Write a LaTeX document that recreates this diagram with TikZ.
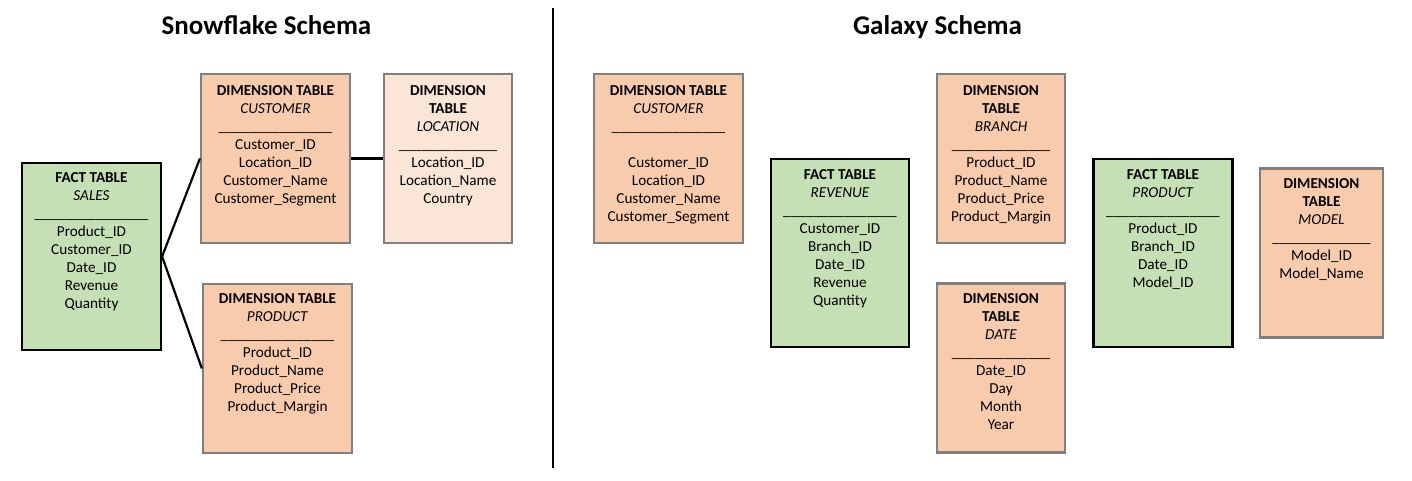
\documentclass[tikz,border=0pt]{standalone}
\usepackage{fontspec}
\setmainfont{Carlito}
\definecolor{factgreen}{HTML}{C5E0B4}
\definecolor{dimorange}{HTML}{F8CBAD}
\definecolor{dimlight}{HTML}{FBE5D6}
\definecolor{dimgray}{HTML}{7F7F7F}
\newcommand\barlong{\_\_\_\_\_\_\_\_\_\_\_\_\_\_\_}
\newcommand\barshort{\_\_\_\_\_\_\_\_\_\_\_\_\_}
\begin{document}
\begin{tikzpicture}[x=1pt,y=1pt,
  fact/.style={draw=black, line width=2.2pt, fill=factgreen, inner sep=0pt},
  dim/.style={draw=dimgray, line width=2.2pt, fill=dimorange, inner sep=0pt},
  dimpale/.style={dim, fill=dimlight},
  tx/.style={font=\fontsize{15.2}{18}\selectfont, align=center, inner sep=0pt, anchor=north},
  title/.style={font=\fontsize{27}{30}\selectfont\bfseries, inner sep=0pt, anchor=base},
  link/.style={draw=black, line width=2.2pt}]
\useasboundingbox (0,0) rectangle (1412,-480);

% titles and divider
\node[title] (snow) at (266.5,-34) {Snowflake Schema};
\node[title] (galaxy) at (937.5,-34) {Galaxy Schema};
\coordinate (dtop) at (553,-8);
\coordinate (dbot) at (553,-468);
\draw[black, line width=1.8pt] (dtop) -- (dbot);

% ---------- Snowflake ----------
\node[fact, minimum width=139pt, minimum height=187pt] (sales) at (91.5,-256.5) {};
\node[tx] (salest) at (91.5,-172.5) {\textbf{FACT TABLE}\\\textit{SALES}\\\barlong\\Product\_ID\\Customer\_ID\\Date\_ID\\Revenue\\Quantity};

\node[dim, minimum width=149pt, minimum height=169pt] (cust) at (275.5,-158.5) {};
\node[tx] (custt) at (275.5,-85.5) {\textbf{DIMENSION TABLE}\\\textit{CUSTOMER}\\\barlong\\Customer\_ID\\Location\_ID\\Customer\_Name\\Customer\_Segment};

\node[dimpale, minimum width=128pt, minimum height=169pt] (loc) at (448,-158.5) {};
\node[tx] (loct) at (448,-85.5) {\textbf{DIMENSION}\\\textbf{TABLE}\\\textit{LOCATION}\\\barshort\\Location\_ID\\Location\_Name\\Country};

\node[dim, minimum width=149pt, minimum height=169pt] (prod) at (277.5,-368.5) {};
\node[tx] (prodt) at (277.5,-293.5) {\textbf{DIMENSION TABLE}\\\textit{PRODUCT}\\\barlong\\Product\_ID\\Product\_Name\\Product\_Price\\Product\_Margin};

\draw[link] (sales.east) -- (cust.west);
\draw[link] (sales.east) -- (prod.west);
\draw[link] (cust.east) -- (loc.west);

% ---------- Galaxy ----------
\node[dim, minimum width=149pt, minimum height=169pt] (gcust) at (668.5,-158.5) {};
\node[tx] (gcustt) at (668.5,-85.5) {\textbf{DIMENSION TABLE}\\\textit{CUSTOMER}\\\barlong\\~\\Customer\_ID\\Location\_ID\\Customer\_Name\\Customer\_Segment};

\node[fact, minimum width=138pt, minimum height=188pt] (rev) at (840,-253) {};
\node[tx] (revt) at (840,-169.5) {\textbf{FACT TABLE}\\\textit{REVENUE}\\\barlong\\Customer\_ID\\Branch\_ID\\Date\_ID\\Revenue\\Quantity};

\node[dim, minimum width=128pt, minimum height=169pt] (branch) at (1001,-158.5) {};
\node[tx] (brancht) at (1001,-85.5) {\textbf{DIMENSION}\\\textbf{TABLE}\\\textit{BRANCH}\\\barshort\\Product\_ID\\Product\_Name\\Product\_Price\\Product\_Margin};

\node[dim, minimum width=128pt, minimum height=169pt] (date) at (1001,-368) {};
\node[tx] (datet) at (1001,-293.5) {\textbf{DIMENSION}\\\textbf{TABLE}\\\textit{DATE}\\\barshort\\Date\_ID\\Day\\Month\\Year};

\node[fact, minimum width=139pt, minimum height=188pt] (fprod) at (1163,-253) {};
\node[tx] (fprodt) at (1163,-169.5) {\textbf{FACT TABLE}\\\textit{PRODUCT}\\\barlong\\Product\_ID\\Branch\_ID\\Date\_ID\\Model\_ID};

\node[dim, minimum width=123pt, minimum height=169pt] (model) at (1321.5,-253) {};
\node[tx] (modelt) at (1321.5,-178.5) {\textbf{DIMENSION}\\\textbf{TABLE}\\\textit{MODEL}\\\barshort\\Model\_ID\\Model\_Name};
\end{tikzpicture}
\end{document}
